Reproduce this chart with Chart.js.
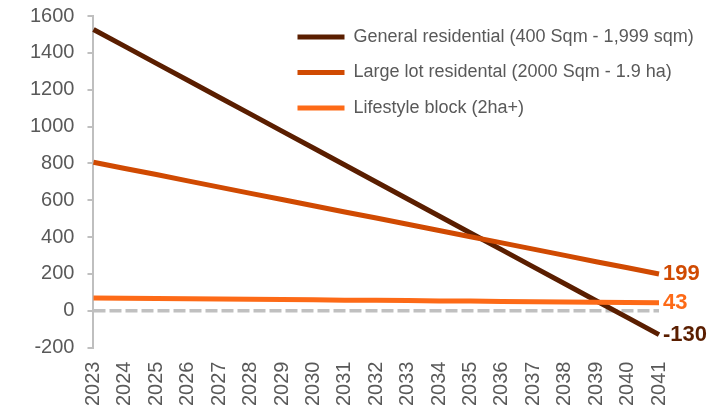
<!DOCTYPE html>
<html>
<head>
<meta charset="utf-8">
<script src="https://cdn.jsdelivr.net/npm/chart.js@4/dist/chart.umd.min.js"></script>
<style>
  html, body { margin: 0; padding: 0; background: #ffffff; }
  #wrap { width: 720px; height: 409px; }
</style>
</head>
<body>
<div id="wrap"><canvas id="c" width="720" height="409"></canvas></div>
<script>
const years = ['2023','2024','2025','2026','2027','2028','2029','2030','2031','2032','2033','2034','2035','2036','2037','2038','2039','2040','2041'];
const generalResidential = [1527, 1435, 1343, 1251, 1159, 1067, 975, 883, 791, 699, 606, 514, 422, 330, 238, 146, 54, -38, -130];
const largeLotResidential = [806, 772, 739, 705, 671, 637, 604, 570, 536, 503, 469, 435, 401, 368, 334, 300, 266, 233, 199];
const lifestyleBlock = [69, 68, 66, 65, 63, 62, 60, 59, 57, 56, 55, 53, 52, 50, 49, 47, 46, 44, 43];
const zeroLine = [0, 0, 0, 0, 0, 0, 0, 0, 0, 0, 0, 0, 0, 0, 0, 0, 0, 0, 0];
const seriesNames = ['General residential (400 Sqm - 1,999 sqm)', 'Large lot residental (2000 Sqm - 1.9 ha)', 'Lifestyle block (2ha+)'];
const yTicks = { min: -200, max: 1600, step: 200 };

const FONT = '"Liberation Sans", Arial, sans-serif';
const colors = ['#5A1E00', '#D04A02', '#FD6A17'];

const endLabels = {
  id: 'endLabels',
  afterDatasetsDraw(chart) {
    const ctx = chart.ctx;
    ctx.save();
    ctx.font = 'bold 22px ' + FONT;
    ctx.textBaseline = 'middle';
    ctx.textAlign = 'left';
    for (let i = 0; i < 3; i++) {
      const meta = chart.getDatasetMeta(i);
      const ds = chart.data.datasets[i];
      const pt = meta.data[meta.data.length - 1];
      ctx.fillStyle = ds.borderColor;
      ctx.fillText(String(ds.data[ds.data.length - 1]), pt.x + 4, pt.y);
    }
    ctx.restore();
  }
};

const legendPlace = {
  id: 'legendPlace',
  afterLayout(chart) {
    const lg = chart.legend;
    if (lg) {
      lg.left = 280;
      lg.top = 10.5;
      lg.right = 720;
      lg.bottom = 150;
      lg.width = lg.right - lg.left;
      lg.height = lg.bottom - lg.top;
    }
  }
};

new Chart(document.getElementById('c'), {
  type: 'line',
  data: {
    labels: years,
    datasets: [
      { label: seriesNames[0], data: generalResidential, borderColor: colors[0], backgroundColor: colors[0], borderWidth: 5, pointRadius: 0, tension: 0, order: 3 },
      { label: seriesNames[1], data: largeLotResidential, borderColor: colors[1], backgroundColor: colors[1], borderWidth: 5, pointRadius: 0, tension: 0, order: 2 },
      { label: seriesNames[2], data: lifestyleBlock, borderColor: colors[2], backgroundColor: colors[2], borderWidth: 5, pointRadius: 0, tension: 0, order: 1 },
      { label: 'zero', data: zeroLine, borderColor: '#C0C0C0', borderWidth: 3.5, borderDash: [12, 4], pointRadius: 0, tension: 0, order: 4 }
    ]
  },
  options: {
    responsive: false,
    animation: false,
    devicePixelRatio: 1,
    layout: { padding: { left: 17, right: 61, top: 16, bottom: -3 } },
    plugins: {
      tooltip: { enabled: false },
      legend: {
        position: 'chartArea',
        align: 'start',
        labels: {
          usePointStyle: true,
          pointStyle: 'line',
          pointStyleWidth: 47,
          padding: 17.5,
          color: '#595959',
          font: { family: FONT, size: 18 },
          filter: (item) => item.datasetIndex < 3,
          sort: (a, b) => a.datasetIndex - b.datasetIndex
        }
      }
    },
    scales: {
      x: {
        offset: false,
        grid: { display: false },
        border: { display: false },
        ticks: {
          autoSkip: false,
          minRotation: 90,
          maxRotation: 90,
          padding: 6,
          color: '#595959',
          font: { family: FONT, size: 20 }
        }
      },
      y: {
        min: yTicks.min,
        max: yTicks.max,
        afterFit: (scale) => { scale.paddingTop = 0; scale.paddingBottom = 0; },
        grid: { drawOnChartArea: false, drawTicks: true, tickLength: 6, color: '#BFBFBF', lineWidth: 2 },
        border: { display: true, color: '#BFBFBF', width: 2 },
        ticks: {
          stepSize: yTicks.step,
          padding: 13,
          color: '#595959',
          font: { family: FONT, size: 20 },
          callback: (v) => String(v)
        }
      }
    }
  },
  plugins: [endLabels, legendPlace]
});
</script>
</body>
</html>
